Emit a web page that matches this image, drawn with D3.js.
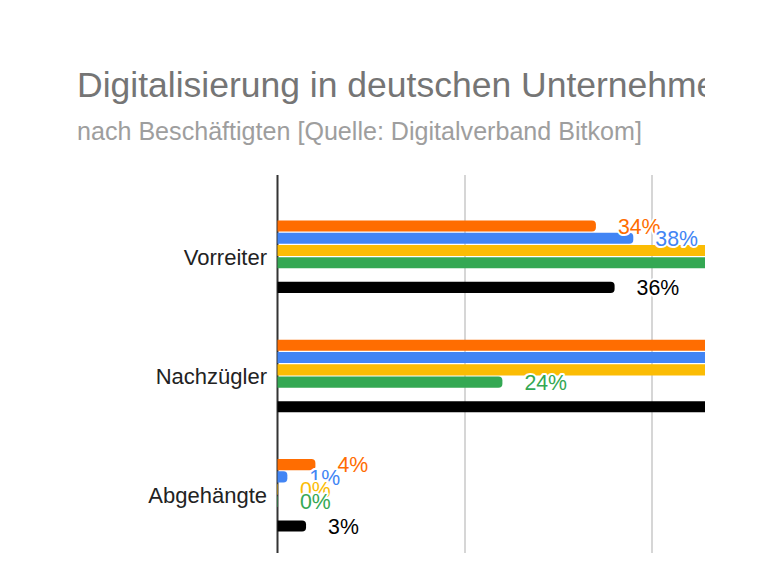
<!DOCTYPE html>
<html>
<head>
<meta charset="utf-8">
<script src="https://cdn.jsdelivr.net/npm/d3@7"></script>
<style>
  html, body { margin: 0; padding: 0; background: #fff; }
  svg { display: block; overflow: hidden; }
  text { font-family: Arial, "Liberation Sans", sans-serif; }
</style>
</head>
<body>
<svg id="chart" width="705" height="576"></svg>
<script>
// ---- data ----
const title = "Digitalisierung in deutschen Unternehmen";
const subtitle = "nach Beschäftigten [Quelle: Digitalverband Bitkom]";
const categories = ["Vorreiter", "Nachzügler", "Abgehängte"];
const seriesNames = ["20–99 Beschäftigte", "100–499 Beschäftigte", "500–1999 Beschäftigte", "2000+ Beschäftigte", "Gesamt"];
const seriesColors = ["#ff6d01", "#4285f4", "#fbbc04", "#34a853", "#000000"];
const orangeValues = [34, 62, 4];
const blueValues   = [38, 61, 1];
const yellowValues = [50, 50, 0];
const greenValues  = [76, 24, 0];
const blackValues  = [36, 61, 3];
const xTicks = [0, 20, 40, 60, 80];

const seriesValues = [orangeValues, blueValues, yellowValues, greenValues, blackValues];
// slot order inside a group (an empty slot separates the total)
const slots = ["s0", "s1", "s2", "s3", "gap", "s4"];
const seriesSlot = ["s0", "s1", "s2", "s3", "s4"];

const W = 705;
const svg = d3.select("#chart");

// ---- scales ----
const x = d3.scaleLinear().domain([0, 80]).range([278, 1026]);
const y0 = d3.scaleBand().domain(categories).range([197, 555]).paddingInner(0);
const groupW = y0.bandwidth() * 0.618;
const groupOff = (y0.bandwidth() - groupW) / 2;
const y1 = d3.scaleBand().domain(slots).range([0, groupW]).paddingInner(0.1).paddingOuter(0.05);

const plotTop = 175, plotBottom = 553;

// ---- title ----
svg.append("text").attr("x", 77).attr("y", 97)
  .attr("font-size", 35.5).attr("fill", "#757575").text(title);
svg.append("text").attr("x", 77).attr("y", 140)
  .attr("font-size", 25.1).attr("fill", "#9e9e9e").text(subtitle);

// ---- gridlines ----
svg.append("g").selectAll("line").data(xTicks.filter(d => d > 0)).join("line")
  .attr("x1", d => x(d)).attr("x2", d => x(d))
  .attr("y1", plotTop).attr("y2", plotBottom)
  .attr("stroke", "#cccccc").attr("stroke-width", 1.6);

// axis baseline
svg.append("line").attr("x1", x(0) - 0.5).attr("x2", x(0) - 0.5)
  .attr("y1", plotTop).attr("y2", plotBottom)
  .attr("stroke", "#333333").attr("stroke-width", 2);

// ---- category labels ----
svg.append("g").selectAll("text").data(categories).join("text")
  .attr("x", 267).attr("y", d => y0(d) + y0.bandwidth() / 2)
  .attr("dy", "0.36em").attr("text-anchor", "end")
  .attr("font-size", 22).attr("fill", "#222222").text(d => d);

// ---- bars ----
function barPath(x0, x1, yTop, h) {
  const w = x1 - x0;
  if (w <= 0) return "";
  const r = Math.min(4, w, h / 2);
  return `M${x0},${yTop}H${x1 - r}A${r},${r} 0 0 1 ${x1},${yTop + r}V${yTop + h - r}A${r},${r} 0 0 1 ${x1 - r},${yTop + h}H${x0}Z`;
}

const barData = [];
seriesValues.forEach((vals, si) => {
  vals.forEach((v, ci) => barData.push({ si, ci, v }));
});

svg.append("g").selectAll("path").data(barData).join("path")
  .attr("d", d => barPath(x(0) - 0.5, x(d.v), y0(categories[d.ci]) + groupOff + y1(seriesSlot[d.si]), y1.bandwidth()))
  .attr("fill", d => seriesColors[d.si]);

// ---- value labels (those lying past the clipped right edge are not visible) ----
svg.append("g").selectAll("text").data(barData.filter(d => x(d.v) + 22 < W)).join("text")
  .attr("x", d => x(d.v) + 22)
  .attr("y", d => y0(categories[d.ci]) + groupOff + y1(seriesSlot[d.si]) + y1.bandwidth() / 2)
  .attr("dy", "0.36em")
  .attr("font-size", 21.3)
  .attr("fill", d => seriesColors[d.si])
  .attr("stroke", "#ffffff").attr("stroke-width", 4).attr("stroke-linejoin", "round")
  .attr("paint-order", "stroke")
  .text(d => d.v + "%");
</script>
</body>
</html>
